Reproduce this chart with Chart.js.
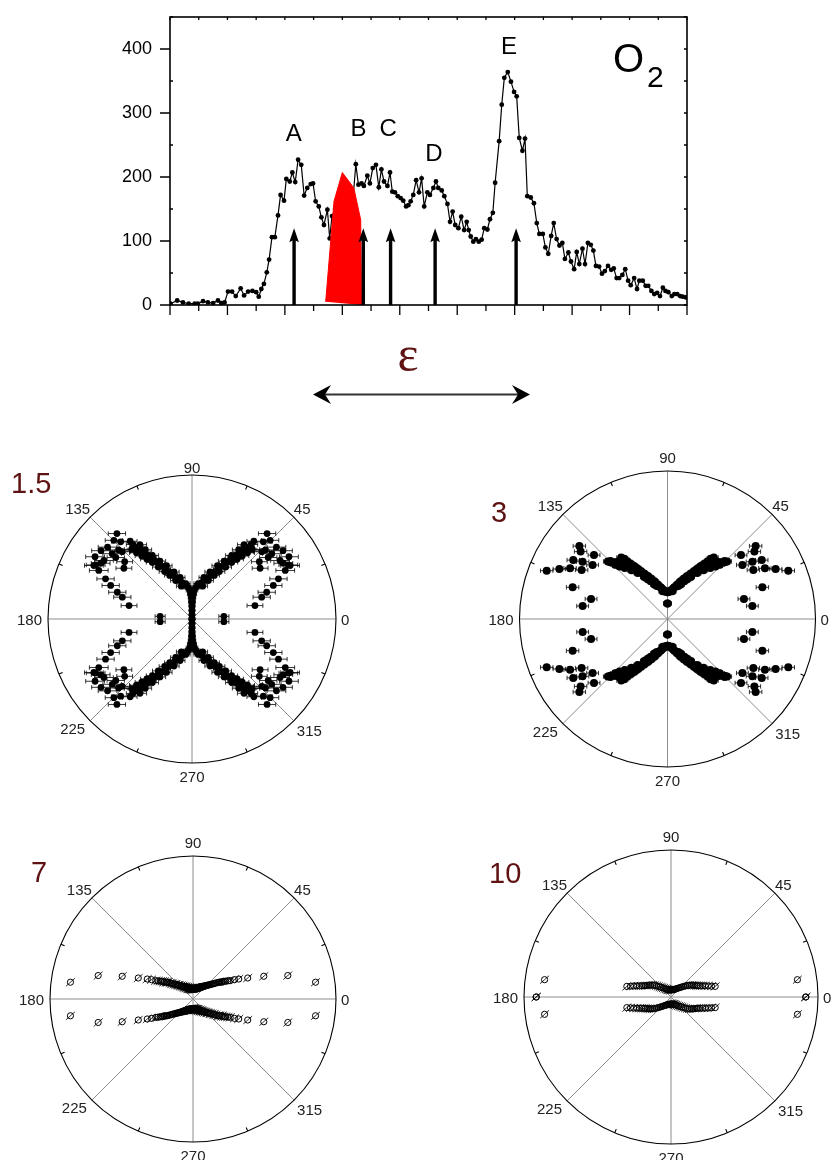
<!DOCTYPE html>
<html>
<head>
<meta charset="utf-8">
<script src="https://cdn.jsdelivr.net/npm/chart.js@4.4.1/dist/chart.umd.min.js"></script>
<style>
  html, body { margin: 0; padding: 0; background: #fff; }
  #wrap { position: relative; width: 833px; height: 1160px; overflow: hidden; }
  #wrap canvas { position: absolute; left: 0; top: 0; }
</style>
</head>
<body>
<div id="wrap">
  <canvas id="spectrum" width="833" height="1160"></canvas>
  <canvas id="pol15" width="833" height="1160"></canvas>
  <canvas id="pol3" width="833" height="1160"></canvas>
  <canvas id="pol7" width="833" height="1160"></canvas>
  <canvas id="pol10" width="833" height="1160"></canvas>
</div>
<script>
// ---- spectrum (O2) ----
const channel = [0.2, 2.5, 4.5, 6.5, 8.6, 9.7, 11.5, 13.2, 15.0, 16.7, 17.9, 19.0, 20.2, 21.6, 22.9, 24.6, 25.8, 27.2, 28.7, 30.0,
  30.9, 31.8, 32.7, 33.7, 34.5, 35.5, 36.5, 37.6, 38.5, 39.7, 40.5, 41.7, 42.6, 43.6, 44.6, 45.7, 46.7, 47.8, 49.0, 49.8,
  50.7, 51.8, 52.7, 53.6, 54.8, 55.6, 56.4, 57.5, 58.5, 59.5, 60.6, 61.6, 62.7, 63.7, 64.7, 65.6, 66.7, 67.5, 68.7, 69.6,
  70.6, 71.7, 72.7, 73.6, 74.5, 75.7, 76.6, 77.4, 78.3, 79.3, 80.3, 81.2, 82.2, 83.0, 83.8, 84.7, 85.7, 86.7, 87.6, 88.5,
  89.6, 90.5, 91.7, 92.6, 93.4, 94.6, 95.5, 96.6, 97.5, 98.4, 99.3, 100.4, 101.4, 102.4, 103.3, 104.0, 104.7, 105.6, 106.5, 107.5,
  108.5, 109.4, 110.5, 111.4, 112.4, 113.2, 114.6, 115.5, 116.4, 117.6, 118.7, 119.8, 120.7, 121.6, 122.7, 123.6, 124.4, 125.6, 126.7, 127.7,
  128.6, 129.8, 130.7, 131.7, 132.7, 133.6, 134.6, 135.6, 136.6, 137.5, 138.7, 139.6, 140.7, 141.6, 142.5, 143.6, 144.5, 145.5, 146.5, 147.4,
  148.3, 149.4, 150.4, 151.4, 152.5, 153.6, 154.5, 155.5, 156.4, 157.5, 158.5, 159.5, 160.4, 161.6, 162.6, 163.4, 164.6, 165.6, 166.5, 167.6,
  168.6, 169.6, 170.6, 171.6, 172.5, 173.5, 174.7, 175.6, 176.6, 177.6, 178.5, 179.5];
const counts = [2, 7, 4, 2, 2, 2, 6, 4, 3, 7, 3, 4, 21, 21, 14, 26, 15, 21, 22, 20,
  13, 25, 33, 51, 71, 106, 106, 140, 172, 163, 197, 193, 207, 192, 227, 219, 171, 183, 189, 190,
  162, 154, 137, 125, 149, 104, 139, 150, 160, 170, 165, 175, 170, 165, 220, 188, 190, 186, 202, 190,
  214, 219, 184, 212, 193, 186, 207, 177, 176, 170, 167, 163, 154, 156, 162, 172, 195, 176, 198, 154,
  176, 172, 183, 193, 183, 179, 170, 158, 130, 146, 125, 120, 138, 117, 130, 117, 107, 99, 103, 99,
  102, 120, 118, 134, 144, 191, 256, 313, 355, 364, 349, 333, 326, 261, 241, 260, 170, 168, 159, 128,
  111, 111, 90, 80, 108, 128, 103, 93, 97, 72, 82, 68, 56, 83, 64, 88, 64, 97, 94, 85,
  61, 60, 49, 53, 61, 55, 57, 42, 42, 47, 56, 38, 31, 42, 25, 38, 38, 30, 30, 22,
  17, 19, 14, 27, 22, 20, 14, 17, 17, 14, 13, 12];
const redX = [54.2, 57.1, 60.0, 64.0, 66.4, 66.7];
const redY = [5, 162, 207, 183, 133, 0];
const yTicks = [0, 100, 200, 300, 400];
const arrowX = [43.2, 67.3, 76.8, 92.3, 120.5];
const arrowTop = 120;
const peakNames = ['A', 'B', 'C', 'D', 'E'];
const peakNameX = [43.1, 65.6, 76.0, 91.9, 118.0];
const peakNameY = [266, 274, 274, 235, 403];

// ---- angular distributions, first quadrant (deg, r / rmax), mirrored into the other three ----
const theta15 = [90, 90, 90, 89.5, 89, 88.5, 87.5, 86, 83, 79, 75, 71, 68, 66, 64, 62, 60.5, 59, 58, 57, 56, 55, 54, 53, 52.2, 51.6, 51.5,
  72, 67, 63, 60, 57, 55, 53, 51.5, 50, 49,
  80, 74, 69, 64.5, 61, 58, 56, 55,
  48.7, 47.2, 45.2, 44, 43.2, 40.4, 39.3, 38.9, 40.4, 36.7, 36.9, 33.6, 32.7, 31.4, 29.3, 28.6, 27.5,
  24.9, 22.4, 19.7, 17.4, 12, 4.8];
const r15 = [0.0, 0.03, 0.06, 0.09, 0.12, 0.15, 0.175, 0.2, 0.22, 0.24, 0.26, 0.285, 0.31, 0.335, 0.365, 0.395, 0.42, 0.447, 0.47, 0.495, 0.52, 0.545, 0.57, 0.60, 0.63, 0.66, 0.69,
  0.24, 0.29, 0.34, 0.38, 0.43, 0.48, 0.52, 0.56, 0.60, 0.64,
  0.25, 0.30, 0.35, 0.41, 0.46, 0.52, 0.58, 0.63,
  0.79, 0.73, 0.77, 0.673, 0.70, 0.77, 0.716, 0.68, 0.614, 0.59, 0.79, 0.734, 0.80, 0.743, 0.767, 0.776, 0.73,
  0.662, 0.611, 0.551, 0.507, 0.447, 0.222];
const err15 = [0.015, 0.015, 0.015, 0.018, 0.02, 0.022, 0.024, 0.026, 0.028, 0.03, 0.03, 0.032, 0.034, 0.035, 0.036, 0.037, 0.038, 0.04, 0.04, 0.04, 0.042, 0.042, 0.044, 0.044, 0.046, 0.046, 0.048,
  0.034, 0.035, 0.036, 0.038, 0.04, 0.042, 0.044, 0.046, 0.048, 0.05,
  0.03, 0.034, 0.036, 0.038, 0.04, 0.042, 0.044, 0.046,
  0.06, 0.06, 0.06, 0.055, 0.06, 0.065, 0.065, 0.06, 0.055, 0.055, 0.065, 0.065, 0.065, 0.065, 0.065, 0.065, 0.065,
  0.06, 0.06, 0.06, 0.06, 0.055, 0.035];

const theta3 = [90, 90, 86, 82, 78, 74, 71, 68, 65.5, 63, 61, 59.5, 58, 56.5, 55.3, 54.4, 53, 80, 72, 66,
  61, 57, 53.5, 50, 47.5, 46, 44.8, 44, 51.5, 48.5, 63.5, 69,
  84, 76, 70, 64.5, 60, 56.5, 54, 51.5, 49.5, 47, 45.5,
  41, 39.6, 37.8, 35.8, 34, 32, 29.7, 27.5, 24.8, 21.8, 18.5, 14.7, 8.7];
const r3 = [0.105, 0.18, 0.185, 0.20, 0.22, 0.245, 0.27, 0.295, 0.32, 0.345, 0.37, 0.395, 0.42, 0.445, 0.47, 0.50, 0.52, 0.19, 0.235, 0.28,
  0.325, 0.37, 0.41, 0.45, 0.48, 0.51, 0.545, 0.56, 0.47, 0.515, 0.30, 0.25,
  0.19, 0.225, 0.27, 0.315, 0.36, 0.405, 0.445, 0.48, 0.50, 0.525, 0.55,
  0.658, 0.773, 0.743, 0.624, 0.692, 0.751, 0.668, 0.742, 0.805, 0.879, 0.676, 0.534, 0.58];
const err3 = [0.025, 0.025, 0.025, 0.025, 0.025, 0.025, 0.025, 0.025, 0.025, 0.025, 0.025, 0.025, 0.028, 0.028, 0.028, 0.03, 0.03, 0.025, 0.025, 0.025,
  0.025, 0.025, 0.028, 0.028, 0.03, 0.03, 0.03, 0.03, 0.028, 0.03, 0.025, 0.025,
  0.025, 0.025, 0.025, 0.025, 0.025, 0.028, 0.028, 0.03, 0.03, 0.03, 0.03,
  0.04, 0.042, 0.042, 0.04, 0.042, 0.042, 0.042, 0.042, 0.042, 0.042, 0.042, 0.04, 0.04];

const theta7 = [7.8, 13.9, 17.8, 21, 23.6, 25, 26.2, 27.5, 28.5, 30, 31, 32, 33.5, 35, 36.5, 38, 40, 42, 44, 46.5,
  49, 52, 55, 58, 62, 66, 70, 75, 80, 85, 90,
  30, 33, 36, 40, 44, 48, 52, 56, 60, 65, 72, 78, 84];
const r7 = [0.865, 0.683, 0.52, 0.41, 0.349, 0.32, 0.29, 0.275, 0.26, 0.248, 0.235, 0.222, 0.21, 0.195, 0.18, 0.168, 0.155, 0.145, 0.135, 0.125,
  0.115, 0.105, 0.097, 0.09, 0.083, 0.078, 0.074, 0.071, 0.069, 0.068, 0.067,
  0.235, 0.215, 0.185, 0.16, 0.14, 0.125, 0.115, 0.105, 0.1, 0.092, 0.085, 0.08, 0.078];

const theta10 = [0, 7.8, 13.5, 15, 16.5, 18, 19.5, 21, 22.5, 24, 26, 28, 30, 32.5, 35, 37.5, 40, 43, 46, 50,
  55, 60, 66, 72, 80, 90];
const r10 = [0.917, 0.868, 0.309, 0.285, 0.265, 0.245, 0.228, 0.213, 0.2, 0.19, 0.18, 0.17, 0.162, 0.15, 0.138, 0.125, 0.112, 0.1, 0.09, 0.08,
  0.07, 0.062, 0.056, 0.052, 0.049, 0.048];

const angleTicks = [0, 45, 90, 135, 180, 225, 270, 315];

const W = 833, H = 1160;
const FONT = '"Liberation Sans", Arial, Helvetica, sans-serif';
const MAROON = '#5e1212';
Chart.defaults.font.family = FONT;

// ---------- top panel ----------
const spectrumDecor = {
  id: 'spectrumDecor',
  afterDatasetsDraw(chart) {
    const { ctx, scales: { x, y } } = chart;
    ctx.save();
    ctx.fillStyle = '#000';
    const y0 = y.getPixelForValue(0);
    const yt = y.getPixelForValue(arrowTop);
    arrowX.forEach(c => {
      const px = x.getPixelForValue(c);
      ctx.fillRect(px - 1.7, yt + 10, 3.4, y0 - yt - 10);
      ctx.beginPath();
      ctx.moveTo(px, yt);
      ctx.lineTo(px - 4.8, yt + 14);
      ctx.lineTo(px, yt + 11.5);
      ctx.lineTo(px + 4.8, yt + 14);
      ctx.closePath();
      ctx.fill();
    });
    ctx.font = '24px ' + FONT;
    ctx.textAlign = 'center';
    ctx.textBaseline = 'middle';
    peakNames.forEach((n, i) => {
      ctx.fillText(n, x.getPixelForValue(peakNameX[i]), y.getPixelForValue(peakNameY[i]));
    });
    // molecule tag
    ctx.textAlign = 'left';
    ctx.textBaseline = 'alphabetic';
    ctx.font = '40px ' + FONT;
    ctx.fillText('O', 613, 72);
    ctx.font = '30px ' + FONT;
    ctx.fillText('2', 647, 87);
    ctx.restore();
  },
  afterDraw(chart) {
    const { ctx, chartArea: a, scales: { x, y } } = chart;
    ctx.save();
    ctx.strokeStyle = '#000';
    ctx.lineWidth = 1.6;
    ctx.strokeRect(a.left, a.top, a.right - a.left, a.bottom - a.top);
    ctx.lineWidth = 1.3;
    ctx.beginPath();
    for (let c = 0; c <= 180; c += 10) {
      const px = x.getPixelForValue(c);
      const len = c % 20 === 0 ? 10 : 6;
      ctx.moveTo(px, a.bottom); ctx.lineTo(px, a.bottom + len);
      ctx.moveTo(px, a.top); ctx.lineTo(px, a.top + 3);
    }
    for (let v = 0; v <= 450; v += 50) {
      const py = y.getPixelForValue(v);
      if (yTicks.includes(v)) { ctx.moveTo(a.left - 10, py); ctx.lineTo(a.left, py); }
      else { ctx.moveTo(a.left, py); ctx.lineTo(a.left + 3, py); }
      ctx.moveTo(a.right, py); ctx.lineTo(a.right - 3, py);
    }
    ctx.stroke();

    // energy-range annotation under the panel
    ctx.fillStyle = MAROON;
    ctx.font = '50px "Liberation Serif", "DejaVu Serif", serif';
    ctx.textAlign = 'center';
    ctx.textBaseline = 'alphabetic';
    ctx.fillText('ε', 408, 371);
    ctx.strokeStyle = '#333';
    ctx.lineWidth = 2;
    ctx.beginPath();
    ctx.moveTo(322, 394.5); ctx.lineTo(522, 394.5);
    ctx.stroke();
    ctx.fillStyle = '#000';
    [[313, 1], [530, -1]].forEach(([tip, d]) => {
      ctx.beginPath();
      ctx.moveTo(tip, 394.5);
      ctx.lineTo(tip + d * 18, 385);
      ctx.lineTo(tip + d * 12, 394.5);
      ctx.lineTo(tip + d * 18, 404);
      ctx.closePath();
      ctx.fill();
    });
    ctx.restore();
  }
};

new Chart(document.getElementById('spectrum'), {
  type: 'scatter',
  data: {
    datasets: [
      {
        data: redX.map((v, i) => ({ x: v, y: redY[i] })),
        showLine: true,
        fill: 'shape',
        backgroundColor: '#ff0000',
        borderColor: '#ff0000',
        borderWidth: 1,
        pointRadius: 0,
        order: 0
      },
      {
        data: channel.map((v, i) => ({ x: v, y: counts[i] })),
        showLine: true,
        borderColor: '#000',
        borderWidth: 1.2,
        pointRadius: 2.4,
        pointBackgroundColor: '#000',
        pointBorderWidth: 0,
        order: 1
      }
    ]
  },
  options: {
    responsive: false,
    animation: false,
    events: [],
    layout: { padding: { left: 0, right: W - 687, top: 17, bottom: H - 305 } },
    scales: {
      x: { type: 'linear', min: 0, max: 180, display: false },
      y: {
        min: 0, max: 450,
        afterFit: s => { s.width = 170; s.paddingTop = 0; s.paddingBottom = 0; },
        grid: { display: false, drawTicks: false },
        border: { display: false },
        ticks: {
          stepSize: 100,
          padding: 18,
          color: '#000',
          font: { size: 18 },
          callback: v => (yTicks.includes(v) ? v : '')
        }
      }
    },
    plugins: { legend: { display: false }, tooltip: { enabled: false } }
  },
  plugins: [spectrumDecor]
});

// ---------- polar panels ----------
function makePolar(id, theta, radius, err, opt) {
  const pts = [];
  theta.forEach((t, i) => {
    [t, 180 - t, 180 + t, 360 - t].forEach(a => {
      const rad = a * Math.PI / 180;
      pts.push({ x: radius[i] * Math.cos(rad), y: radius[i] * Math.sin(rad), e: err ? err[i] : 0 });
    });
  });

  const decor = {
    id: 'polarDecor',
    beforeDatasetsDraw(chart) {
      const { ctx, scales: { x, y } } = chart;
      const cx = x.getPixelForValue(0), cy = y.getPixelForValue(0);
      const rr = x.getPixelForValue(1) - cx;
      const at = (deg, k) => [cx + k * Math.cos(deg * Math.PI / 180), cy - k * Math.sin(deg * Math.PI / 180)];
      ctx.save();
      // spokes
      ctx.lineWidth = 1;
      ctx.strokeStyle = '#8c8c8c';
      ctx.beginPath();
      [0, 45, 90, 135].forEach(a => {
        const p = at(a, rr), q = at(a + 180, rr);
        ctx.moveTo(p[0], p[1]); ctx.lineTo(q[0], q[1]);
      });
      ctx.stroke();
      // rim + small ticks
      ctx.strokeStyle = '#000';
      ctx.lineWidth = 1.1;
      ctx.beginPath();
      ctx.arc(cx, cy, rr, 0, Math.PI * 2);
      ctx.stroke();
      ctx.beginPath();
      for (let a = 22.5; a < 360; a += 45) {
        const p = at(a, rr), q = at(a, rr - 4);
        ctx.moveTo(p[0], p[1]); ctx.lineTo(q[0], q[1]);
      }
      ctx.stroke();
      // angle labels
      ctx.fillStyle = '#222';
      ctx.font = '15px ' + FONT;
      ctx.textBaseline = 'alphabetic';
      angleTicks.forEach(a => {
        const p = at(a, rr);
        let tx = p[0], ty = p[1], al = 'center';
        if (a === 0) { al = 'left'; tx += 5; ty += 5.5; }
        else if (a === 180) { al = 'right'; tx -= 6; ty += 5.5; }
        else if (a === 90) { ty -= opt.topGap; }
        else if (a === 270) { ty += 19; }
        else if (a === 45) { al = 'left'; ty -= 3; }
        else if (a === 135) { al = 'right'; ty -= 3; }
        else if (a === 225) { al = 'right'; tx -= 5; ty += 13; }
        else if (a === 315) { al = 'left'; tx += 3; ty += 15; }
        ctx.textAlign = al;
        ctx.fillText(String(a), tx, ty);
      });
      // panel tag
      ctx.fillStyle = MAROON;
      ctx.font = '29px ' + FONT;
      ctx.textAlign = 'left';
      ctx.fillText(opt.tag, opt.tagX, opt.tagY);
      // error bars
      ctx.strokeStyle = '#000';
      ctx.lineWidth = 0.8;
      ctx.beginPath();
      chart.data.datasets[0].data.forEach(d => {
        const px = x.getPixelForValue(d.x), py = y.getPixelForValue(d.y);
        if (opt.open) {
          ctx.moveTo(px - 4.5, py + 4); ctx.lineTo(px + 4.5, py - 4);
        } else {
          const l = x.getPixelForValue(d.x - d.e), r = x.getPixelForValue(d.x + d.e);
          ctx.moveTo(l, py); ctx.lineTo(r, py);
          ctx.moveTo(l, py - 2.2); ctx.lineTo(l, py + 2.2);
          ctx.moveTo(r, py - 2.2); ctx.lineTo(r, py + 2.2);
        }
      });
      ctx.stroke();
      ctx.restore();
    }
  };

  const R = opt.R;
  return new Chart(document.getElementById(id), {
    type: 'scatter',
    data: {
      datasets: [{
        data: pts,
        pointRadius: opt.dot,
        pointBackgroundColor: opt.open ? 'rgba(0,0,0,0)' : '#000',
        pointBorderColor: '#000',
        pointBorderWidth: opt.open ? 1 : 0
      }]
    },
    options: {
      responsive: false,
      animation: false,
      events: [],
      layout: { padding: { left: opt.cx - R, right: W - opt.cx - R, top: opt.cy - R, bottom: H - opt.cy - R } },
      scales: {
        x: { type: 'linear', min: -1, max: 1, display: false },
        y: { type: 'linear', min: -1, max: 1, display: false }
      },
      plugins: { legend: { display: false }, tooltip: { enabled: false } }
    },
    plugins: [decor]
  });
}

makePolar('pol15', theta15, r15, err15, { cx: 192, cy: 619, R: 144, dot: 3.4, open: false, tag: '1.5', tagX: 11, tagY: 493, topGap: 2 });
makePolar('pol3', theta3, r3, err3, { cx: 667.5, cy: 619, R: 148, dot: 4.0, open: false, tag: '3', tagX: 491, tagY: 522, topGap: 8 });
makePolar('pol7', theta7, r7, null, { cx: 193, cy: 999, R: 143, dot: 3.1, open: true, tag: '7', tagX: 31, tagY: 882, topGap: 8 });
makePolar('pol10', theta10, r10, null, { cx: 671, cy: 997, R: 147, dot: 3.1, open: true, tag: '10', tagX: 489, tagY: 883, topGap: 8 });
</script>
</body>
</html>
